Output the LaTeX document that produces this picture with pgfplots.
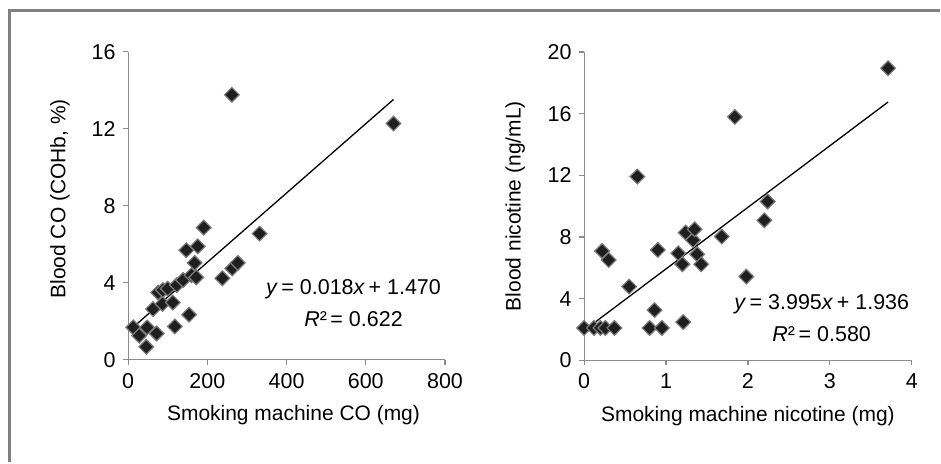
\documentclass[border=0pt]{standalone}
\usepackage{pgfplots}
\pgfplotsset{compat=1.18}
\usepackage{fontspec}
\setmainfont{Liberation Sans}
\definecolor{framegray}{HTML}{808080}
\definecolor{axgray}{HTML}{8C8C8C}
\definecolor{markgray}{HTML}{7A7A7A}

\pgfplotsset{
  panel/.style={
    scale only axis,
    axis lines*=left,
    axis line style={axgray, line width=1.1pt},
    tick style={axgray, line width=1.1pt},
    tick align=outside,
    major tick length=5pt,
    /pgf/number format/assume math mode=true,
    ticklabel style={font=\fontsize{21.5}{25}\selectfont},
    xticklabel style={yshift=-5pt},
    yticklabel style={xshift=-4pt},
    label style={font=\fontsize{21}{25}\selectfont},
    clip=false,
  },
  pts/.style={only marks, mark=square*, mark size=5.2pt,
    mark options={rotate=45, fill=black!88, draw=markgray, line width=1.2pt}},
  fit/.style={black, line width=1.3pt, no marks},
}

\begin{document}
\begin{tikzpicture}[x=1pt,y=1pt]
\path (0,0) rectangle (941,463);
\draw[framegray, line width=3pt] (10,0) -- (10,452) -- (941,452);

% left panel: CO
\begin{axis}[panel,
  at={(128.3pt,102.5pt)}, anchor=south west,
  width=317.4pt, height=308.5pt,
  xmin=0, xmax=800, ymin=0, ymax=16,
  xtick={0,200,400,600,800}, ytick={0,4,8,12,16},
  xlabel={Smoking machine CO (mg)},
  ylabel={Blood CO (COHb, \%)},
  xlabel style={at={(axis description cs:0.522,-0.18)}, anchor=center},
  ylabel style={at={(axis description cs:-0.215,0.523)}, anchor=center},
]
\addplot[pts] coordinates {
  (13,1.69) (28,1.26) (46,0.68) (48,1.69) (63,2.64) (72,1.37) (76,3.5)
  (87,2.91) (88,3.63) (100,3.7) (113,2.98) (118,1.74) (123,3.89) (139,4.15)
  (147,5.7) (154,2.35) (160,4.4) (168,5.04) (172,4.29) (176,5.9) (191,6.87)
  (238,4.24) (262,13.77) (263,4.75) (277,5.04) (332,6.56) (670,12.28)
};
\addplot[fit] coordinates {(13,1.704) (670,13.53)};
\node[font=\fontsize{21.5}{25}\selectfont] at (axis cs:569,3.66) {\textit{y}\,= 0.018\textit{x}\,+ 1.470};
\node[font=\fontsize{21.5}{25}\selectfont] at (axis cs:569,2.1) {\textit{R}²\,= 0.622};
\end{axis}

% right panel: nicotine
\begin{axis}[panel,
  at={(585pt,102.1pt)}, anchor=south west,
  width=328.3pt, height=308.8pt,
  xmin=0, xmax=4, ymin=0, ymax=20,
  xtick={0,1,2,3,4}, ytick={0,4,8,12,16,20},
  xlabel={Smoking machine nicotine (mg)},
  ylabel={Blood nicotine (ng/mL)},
  xlabel style={at={(axis description cs:0.5,-0.18)}, anchor=center},
  ylabel style={at={(axis description cs:-0.21,0.5)}, anchor=center},
]
\addplot[pts] coordinates {
  (0,2.1) (0.12,2.1) (0.2,2.1) (0.26,2.1) (0.37,2.1) (0.22,7.09) (0.30,6.51)
  (0.55,4.78) (0.65,11.92) (0.80,2.1) (0.86,3.26) (0.90,7.16) (0.95,2.1)
  (1.15,6.94) (1.20,6.23) (1.21,2.48) (1.24,8.29) (1.33,7.8) (1.35,8.5)
  (1.38,6.88) (1.43,6.23) (1.68,8.03) (1.84,15.79) (1.98,5.43) (2.20,9.08)
  (2.24,10.3) (3.71,18.95)
};
\addplot[fit] coordinates {(0.1,2.336) (3.71,16.757)};
\node[font=\fontsize{21.5}{25}\selectfont] at (axis cs:2.9,3.62) {\textit{y}\,= 3.995\textit{x}\,+ 1.936};
\node[font=\fontsize{21.5}{25}\selectfont] at (axis cs:2.9,1.68) {\textit{R}²\,= 0.580};
\end{axis}
\end{tikzpicture}
\end{document}
